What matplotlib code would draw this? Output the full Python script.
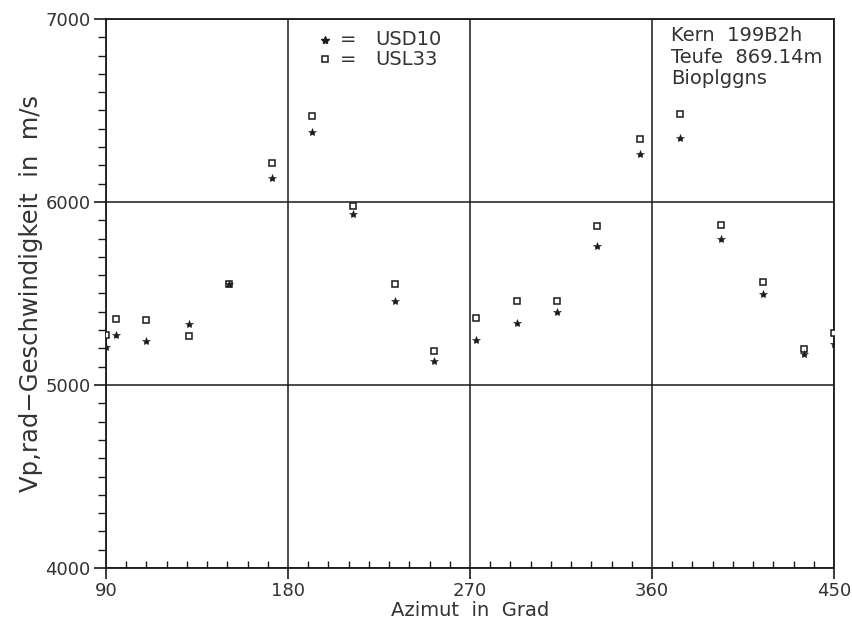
import matplotlib
matplotlib.use("Agg")
import matplotlib.pyplot as plt
from matplotlib.ticker import MultipleLocator

# Azimut in Grad
azimut = [90, 95, 110, 131, 151, 172, 192, 212, 233, 252,
          273, 293, 313, 333, 354, 374, 394, 415, 435, 450]
# Vp,rad in m/s
usd10 = [5208, 5272, 5239, 5332, 5550, 6130, 6381, 5936, 5457, 5129,
         5247, 5337, 5398, 5761, 6264, 6350, 5800, 5499, 5169, 5222]
usl33 = [5273, 5359, 5357, 5270, 5550, 6213, 6472, 5978, 5554, 5187,
         5366, 5457, 5461, 5871, 6346, 6481, 5873, 5563, 5195, 5286]

x_ticks = [90, 180, 270, 360, 450]
y_ticks = [4000, 5000, 6000, 7000]
info_lines = ["Kern  199B2h", "Teufe  869.14m", "Bioplggns"]

ink = "#1a1a1a"
txt = "#333333"
fs = 13

fig = plt.figure(figsize=(8.53, 6.22), dpi=100)
ax = fig.add_axes([0.1243, 0.0868, 0.8534, 0.8827])

ax.plot(azimut, usl33, ls="none", marker="s", ms=4.2, mfc="white",
        mec=ink, mew=1.1, zorder=3)
ax.plot(azimut, usd10, ls="none", marker="*", ms=6, color=ink,
        mew=0.4, zorder=4)

ax.set_xlim(90, 450)
ax.set_ylim(4000, 7000)
ax.set_xticks(x_ticks)
ax.set_yticks(y_ticks)
ax.xaxis.set_minor_locator(MultipleLocator(10))
ax.yaxis.set_minor_locator(MultipleLocator(100))
ax.tick_params(axis="x", which="major", direction="out", length=8,
               width=1.2, color=ink, labelsize=fs, labelcolor=txt, pad=2)
ax.tick_params(axis="x", which="minor", direction="in", length=5,
               width=1.0, color=ink)
ax.tick_params(axis="y", which="major", direction="out", length=9,
               width=1.2, color=ink, labelsize=fs, labelcolor=txt, pad=2)
ax.tick_params(axis="y", which="minor", direction="out", length=6,
               width=1.0, color=ink)
for s in ax.spines.values():
    s.set_color(ink)
    s.set_linewidth(1.3)

ax.grid(True, which="major", color=ink, lw=1.1)
ax.set_axisbelow(True)

ax.set_xlabel("Azimut  in  Grad", fontsize=14, color=txt, labelpad=1)
ax.set_ylabel("Vp,rad\u2212Geschwindigkeit  in  m/s", fontsize=17.5,
              color=txt, labelpad=2)

# legend drawn by hand like the plotter original
ax.plot([0.3008], [0.9617], transform=ax.transAxes, ls="none", marker="*",
        ms=6, color=ink, clip_on=False)
ax.plot([0.3008], [0.927], transform=ax.transAxes, ls="none", marker="s",
        ms=4.2, mfc="white", mec=ink, mew=1.1, clip_on=False)
for yy, name in [(0.9617, "USD10"), (0.927, "USL33")]:
    ax.text(0.332, yy, "=", transform=ax.transAxes, ha="center",
            va="center", fontsize=14, color=txt)
    ax.text(0.3695, yy, name, transform=ax.transAxes, ha="left",
            va="center", fontsize=14, color=txt)

for i, line in enumerate(info_lines):
    ax.text(0.776, 0.969 - i * 0.0385, line, transform=ax.transAxes,
            ha="left", va="center", fontsize=14, color=txt)

fig.savefig("out.png", dpi=100, facecolor="white")
